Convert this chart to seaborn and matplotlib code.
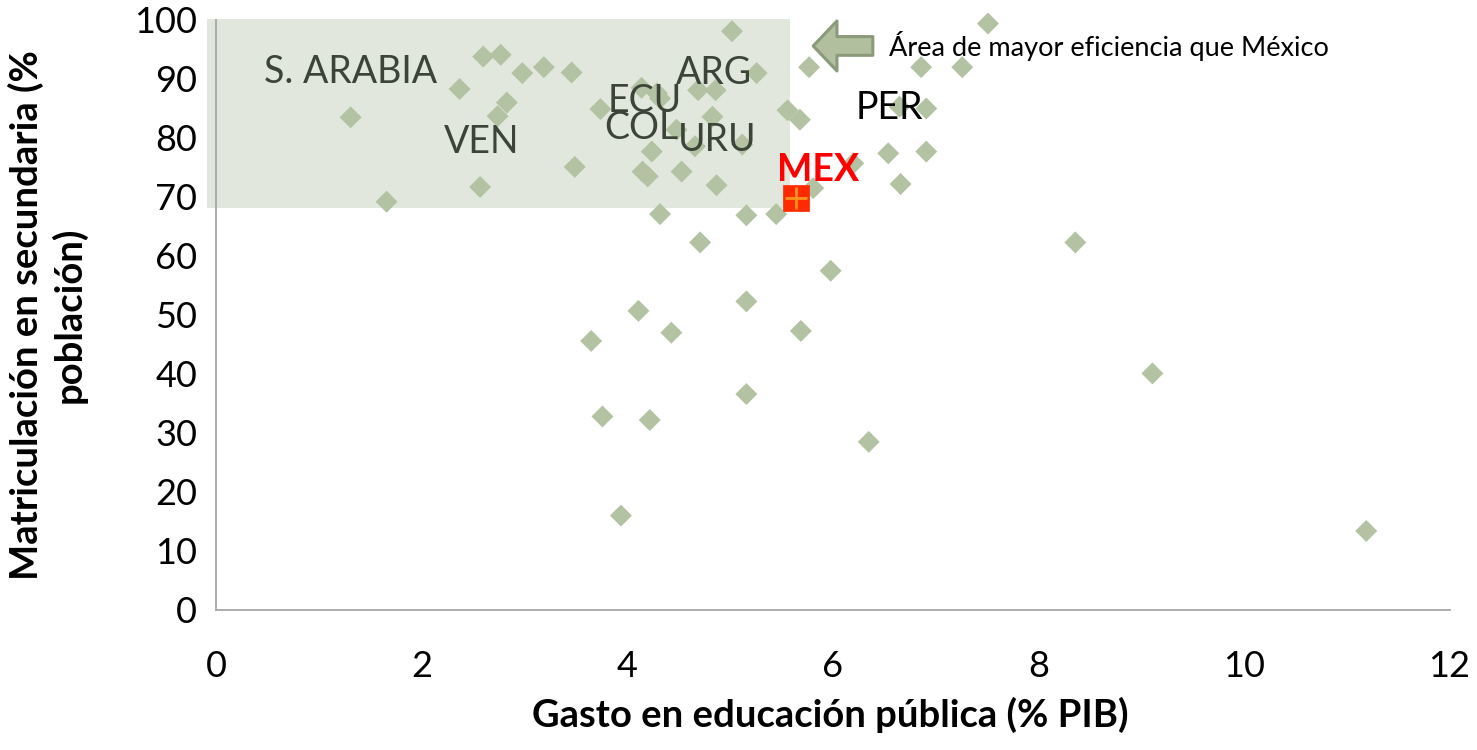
import matplotlib
matplotlib.use("Agg")
import matplotlib.pyplot as plt
import matplotlib.patches as mpatches
import seaborn as sns
import pandas as pd

# ---- data ----
gasto = [1.31, 1.66, 2.37, 2.60, 2.77, 2.98, 3.19, 3.46, 2.83, 2.74, 2.57, 3.49, 3.74,
         4.14, 4.29, 4.32, 4.69, 4.86, 5.02, 5.26, 5.77, 5.56, 5.68, 4.83, 4.48, 4.66,
         5.12, 4.24, 4.15, 4.20, 4.53, 4.87, 4.32, 5.16, 5.45, 5.81, 4.71, 6.20, 6.54,
         6.91, 6.66, 6.91, 6.65, 6.86, 7.26, 7.51, 8.36, 9.11, 11.19, 5.98, 5.16, 4.11,
         4.43, 5.69, 3.65, 5.16, 3.76, 4.22, 6.35, 3.94]
matricula = [83.5, 69.2, 88.3, 93.8, 94.1, 91.0, 92.0, 91.1, 86.0, 83.7, 71.7, 75.1, 84.9,
             88.5, 87.6, 86.7, 88.1, 88.1, 98.1, 91.0, 92.0, 84.7, 83.1, 83.6, 81.4, 78.6,
             78.9, 77.7, 74.3, 73.5, 74.3, 72.0, 67.1, 66.9, 67.1, 71.5, 62.3, 75.7, 77.4,
             77.7, 72.2, 85.0, 85.3, 92.0, 92.0, 99.4, 62.3, 40.1, 13.4, 57.5, 52.3, 50.7,
             47.0, 47.3, 45.6, 36.6, 32.8, 32.2, 28.5, 16.0]
mex_gasto = [5.64]
mex_matricula = [69.9]

etiquetas = ["S. ARABIA", "VEN", "ECU", "COL", "ARG", "URU", "PER"]
etiq_x = [1.31, 2.58, 4.17, 4.14, 4.84, 4.88, 6.55]
etiq_y = [91.2, 79.3, 86.3, 81.7, 91.0, 79.7, 85.1]

x_ticks = [0, 2, 4, 6, 8, 10, 12]
y_ticks = [0, 10, 20, 30, 40, 50, 60, 70, 80, 90, 100]

df = pd.DataFrame({"gasto": gasto, "matricula": matricula})
df_mex = pd.DataFrame({"gasto": mex_gasto, "matricula": mex_matricula})

sns.set_theme(style="white")
plt.rcParams["font.family"] = ["Lato", "DejaVu Sans"]

fig = plt.figure(figsize=(14.77, 7.5), dpi=100)
ax = fig.add_axes([0.1462, 0.18667, 0.8352, 0.78667])

green = "#b3c2a2"
grid_gray = "#a6a6a6"

# efficiency area
rect = mpatches.Rectangle((-0.09, 68.1), 5.67, 32.1, facecolor="#e1e7dc",
                          edgecolor="none", zorder=0, clip_on=False)
ax.add_patch(rect)

sns.scatterplot(data=df, x="gasto", y="matricula", marker="D", s=125,
                color=green, edgecolor="none", linewidth=0, ax=ax, zorder=3,
                clip_on=False)
sns.scatterplot(data=df_mex, x="gasto", y="matricula", marker="s", s=370,
                color="#ff2a00", edgecolor="#ff2a00", linewidth=0.5, ax=ax,
                zorder=4, clip_on=False)
sns.scatterplot(data=df_mex, x="gasto", y="matricula", marker="+", s=260,
                color="#f7941d", linewidth=2, ax=ax, zorder=5, clip_on=False)

for lab, lx, ly in zip(etiquetas, etiq_x, etiq_y):
    ax.text(lx, ly, lab, ha="center", va="center", fontsize=27,
            color="#000000" if lab == "PER" else "#3c4439", zorder=6)

ax.text(5.86, 74.6, "MEX", ha="center", va="center", fontsize=27,
        fontweight="bold", color="#ff0000", zorder=6)

# arrow + annotation
arrow = mpatches.FancyArrowPatch((6.39, 95.6), (5.81, 95.6),
                                 arrowstyle="simple,head_length=0.95,head_width=2.0,tail_width=0.75",
                                 mutation_scale=18, facecolor="#b1bf9f",
                                 edgecolor="#8a9a7a", linewidth=2.2,
                                 shrinkA=0, shrinkB=0, zorder=6, clip_on=False)
ax.add_patch(arrow)
ax.text(6.55, 95.6, "Área de mayor eficiencia que México", ha="left",
        va="center", fontsize=19.5, color="#000000", zorder=6)

ax.set_xlim(0, 12)
ax.set_ylim(0, 100)
ax.set_xticks(x_ticks)
ax.set_yticks(y_ticks)
ax.set_xticklabels([str(t) for t in x_ticks])
ax.set_yticklabels([str(t) for t in y_ticks])

for side in ["top", "right"]:
    ax.spines[side].set_visible(False)
for side in ["left", "bottom"]:
    ax.spines[side].set_color(grid_gray)
    ax.spines[side].set_linewidth(1.3)
    ax.spines[side].set_zorder(10)

ax.tick_params(axis="both", which="major", direction="out", length=9.5,
               width=1.3, color=grid_gray, labelsize=26, labelcolor="#000000")
ax.tick_params(axis="x", pad=19)
ax.tick_params(axis="y", pad=4)
ax.grid(False)
ax.set_facecolor("none")

ax.set_xlabel("Gasto en educación pública (% PIB)", fontsize=27.5,
              fontweight="bold", color="#000000", va="center")
ax.xaxis.set_label_coords(0.498, -0.178)
ax.set_ylabel("Matriculación en secundaria (%\npoblación)", fontsize=27.5,
              fontweight="bold", color="#000000", va="center",
              linespacing=1.2)
ax.yaxis.set_label_coords(-0.137, 0.5)

fig.savefig("out.png", dpi=100)
